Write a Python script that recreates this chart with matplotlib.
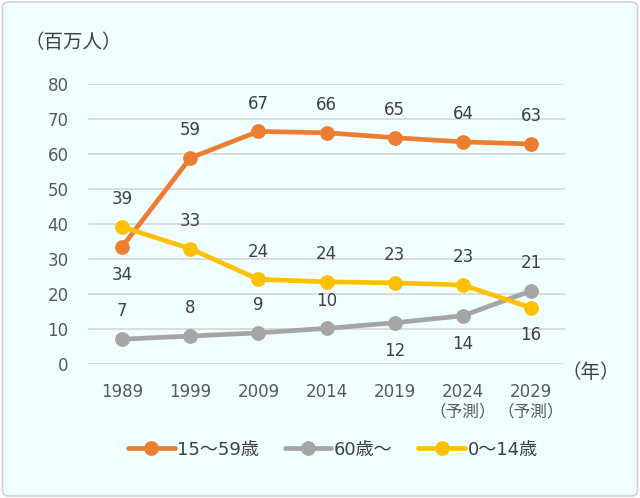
import matplotlib
matplotlib.use("Agg")
import matplotlib.pyplot as plt
from matplotlib.patches import FancyBboxPatch

plt.rcParams['font.family'] = ['DejaVu Sans', 'Noto Sans CJK JP']

years = ["1989", "1999", "2009", "2014", "2019", "2024\n（予測）", "2029\n（予測）"]
working = [33.5, 58.9, 66.5, 66.1, 64.7, 63.5, 62.9]
elderly = [7.1, 8.0, 8.9, 10.2, 11.8, 13.8, 20.9]
children = [39.2, 33.0, 24.2, 23.5, 23.2, 22.6, 16.1]
working_labels = ["34", "59", "67", "66", "65", "64", "63"]
elderly_labels = ["7", "8", "9", "10", "12", "14", "21"]
children_labels = ["39", "33", "24", "24", "23", "23", "16"]
names = ["15～59歳", "60歳～", "0～14歳"]

# label placement: +1 above, -1 below
working_pos = [-1, 1, 1, 1, 1, 1, 1]
elderly_pos = [1, 1, 1, 1, -1, -1, 1]
children_pos = [1, 1, 1, 1, 1, 1, -1]

c_or, c_gr, c_ye = "#ED7D31", "#A5A5A5", "#FFC000"
bg = "#F0FFFF"
txt = "#404040"

fig = plt.figure(figsize=(6.4, 4.98), dpi=100)
fig.patch.set_facecolor("white")
frame = FancyBboxPatch((0.004, 0.004), 0.992, 0.992, boxstyle="round,pad=0,rounding_size=0.01",
                       transform=fig.transFigure, facecolor=bg, edgecolor="#D0D0D0", linewidth=1.2,
                       zorder=-10)
fig.patches.append(frame)

ax = fig.add_axes([0.1375, 0.269, 0.7455, 0.562])
ax.set_facecolor("none")
ax.set_zorder(1)
x = list(range(len(years)))

for vals, labs, pos, col, nm in [(working, working_labels, working_pos, c_or, names[0]),
                                 (elderly, elderly_labels, elderly_pos, c_gr, names[1]),
                                 (children, children_labels, children_pos, c_ye, names[2])]:
    ax.plot(x, vals, color=col, lw=3.4, marker="o", markersize=9.6, label=nm, solid_capstyle="round")
    for xi, v, l, p in zip(x, vals, labs, pos):
        ax.annotate(l, (xi, v), xytext=(0, 20 * p), textcoords="offset points",
                    ha="center", va="center", fontsize=12, color=txt)

ax.set_xlim(-0.5, len(years) - 0.5)
ax.set_ylim(0, 80)
ax.set_yticks(range(0, 81, 10))
ax.set_xticks(x)
ax.set_xticklabels(years, fontsize=12, color="#595959", linespacing=1.05)
ax.tick_params(axis="y", labelsize=12, labelcolor="#595959", length=0, pad=14)
ax.tick_params(axis="x", length=0, pad=14)
ax.grid(axis="y", color="#D9D9D9", lw=1.3)
ax.set_axisbelow(True)
for s in ax.spines.values():
    s.set_visible(False)

fig.text(0.039, 0.915, "（百万人）", fontsize=14, color=txt, ha="left", va="center")
fig.text(0.878, 0.252, "（年）", fontsize=14, color=txt, ha="left", va="center")

leg = fig.legend(loc="center", bbox_to_anchor=(0.52, 0.097), ncol=3, frameon=False,
                 fontsize=13, handlelength=2.6, columnspacing=1.4, handletextpad=0.15)
for t in leg.get_texts():
    t.set_color(txt)

fig.savefig("out.png", dpi=100, facecolor=fig.get_facecolor())
